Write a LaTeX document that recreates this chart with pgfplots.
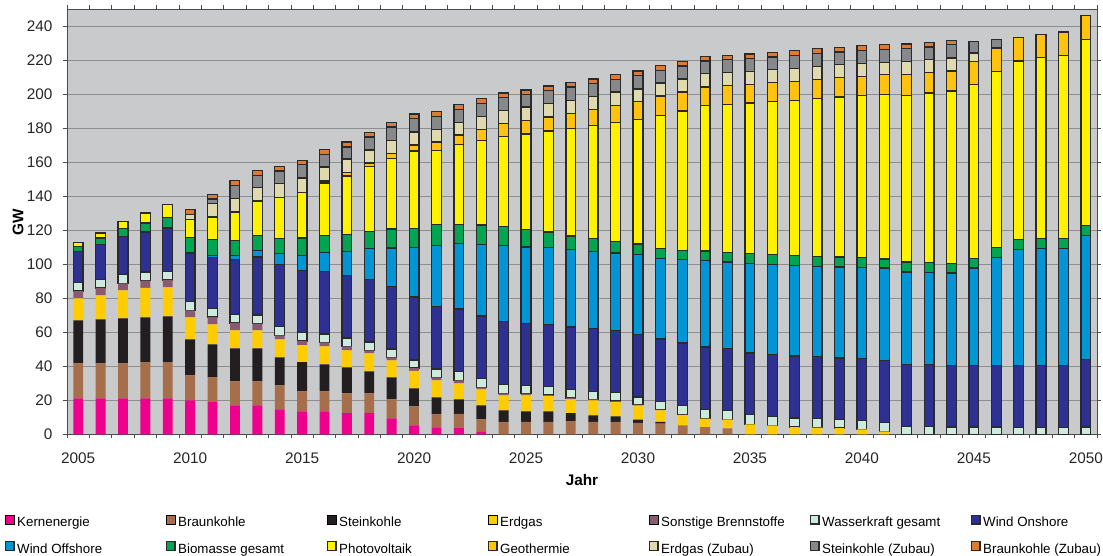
\documentclass[border=0pt]{standalone}
\usepackage{fontspec}
\setmainfont{Liberation Sans}
\usepackage{pgfplots}
\usepackage{pgfplotstable}
\pgfplotsset{compat=1.18}
\definecolor{cK}{HTML}{EC008C}
\definecolor{cB}{HTML}{A66E4A}
\definecolor{cS}{HTML}{231F20}
\definecolor{cE}{HTML}{FFCC00}
\definecolor{cSo}{HTML}{8A5A70}
\definecolor{cW}{HTML}{CDEBDC}
\definecolor{cWon}{HTML}{2E3192}
\definecolor{cWoff}{HTML}{0096D6}
\definecolor{cBio}{HTML}{00A551}
\definecolor{cPV}{HTML}{FFF200}
\definecolor{cGeo}{HTML}{FFC20E}
\definecolor{cEZ}{HTML}{DEDAAE}
\definecolor{cSZ}{HTML}{86888C}
\definecolor{cBZ}{HTML}{DD7A35}
\definecolor{bgc}{HTML}{C9CACC}
\definecolor{gridc}{HTML}{8E8E8E}
\definecolor{bord}{HTML}{2A2A2A}
\pgfplotstableread{
year K B S E So W Won Woff Bio PV Geo EZ SZ BZ
2005 21.2 20.6 25.3 12.9 4.3 5.0 18.4 0 3.0 2.3 0 0 0 0
2006 21.2 20.6 25.8 14.2 4.3 5.1 20.4 0 3.9 3.0 0 0 0 0
2007 21.2 20.6 26.4 16.5 4.1 5.3 22.2 0 4.9 3.9 0 0 0 0
2008 21.2 21.2 26.4 17.3 4.3 5.1 23.5 0 5.3 5.9 0 0 0 0
2009 21.2 21.2 27.0 17.1 4.3 5.1 25.5 0 6.1 7.8 0 0 0 0
2010 20.0 14.7 21.2 12.9 4.1 5.1 28.7 0 9.0 10.6 0 2.8 0 3.0
2011 19.0 14.5 19.4 11.8 4.3 5.1 29.8 1.4 9.2 13.3 0 7.9 2.7 2.8
2012 17.1 14.1 19.4 10.6 4.3 5.1 32.1 2.6 8.8 16.7 0 7.8 7.9 2.7
2013 17.1 14.1 19.4 10.6 3.9 5.1 34.1 3.7 9.1 20.1 0 7.8 7.4 2.8
2014 14.7 14.1 16.5 10.6 2.3 5.3 36.5 6.3 8.8 24.1 0 8.3 7.4 2.7
2015 13.5 11.8 17.1 10.1 2.4 4.9 36.7 8.8 10.2 26.7 0 8.6 7.8 2.6
2016 13.5 11.8 15.9 10.6 2.3 4.9 36.9 11.2 10.0 30.7 1.2 8.3 7.4 2.8
2017 12.4 11.7 15.3 10.0 2.4 4.9 36.8 14.1 10.0 34.4 1.9 8.1 7.0 2.9
2018 12.4 11.7 13.0 10.5 1.8 4.9 36.9 18.2 10.0 38.1 2.1 7.6 7.7 2.6
2019 9.4 11.2 12.9 10.0 1.8 4.9 36.9 22.5 11.2 41.6 2.7 7.8 7.9 2.7
2020 5.3 11.2 10.6 10.2 1.7 4.7 37.1 29.2 11.2 45.5 3.5 7.6 7.9 2.7
2021 4.1 7.7 10.0 10.0 1.7 4.9 36.9 35.9 12.1 43.8 4.9 7.4 7.7 2.6
2022 4.0 8.0 8.6 9.4 1.8 5.3 36.6 38.5 11.3 47.1 5.5 7.4 7.7 2.7
2023 1.4 7.4 8.3 9.4 1.1 5.3 36.7 42.2 11.3 49.8 6.5 7.7 7.6 2.8
2024 0 7.3 6.8 8.8 1.2 5.3 37.1 44.7 11.2 52.9 7.6 7.7 7.4 2.8
2025 0 7.3 6.2 9.4 1.0 4.9 36.5 44.9 10.4 56.1 8.0 7.8 7.5 2.5
2026 0 7.3 6.2 8.9 0.7 5.1 36.5 45.1 9.2 59.4 8.3 7.8 7.9 2.5
2027 0 7.8 4.6 8.2 0.8 5.1 36.6 45.5 8.1 63.1 9.0 7.7 7.8 2.6
2028 0 7.3 3.9 8.8 0.6 4.7 36.9 45.3 7.8 66.3 9.6 7.6 7.5 2.7
2029 0 7.3 3.3 8.4 0.6 4.9 36.7 45.5 6.9 69.7 10.2 7.8 7.3 3.0
2030 0 6.7 1.9 8.3 0.6 4.5 36.8 47.1 6.1 73.3 10.4 7.4 7.9 2.7
2031 0 6.3 1.0 6.8 0.4 4.9 36.7 47.4 5.9 78.2 11.4 7.6 7.5 2.8
2032 0 5.3 0 6.0 0.3 5.3 36.8 49.0 5.5 82.0 11.2 7.6 7.7 2.7
2033 0 4.3 0 4.9 0 5.3 36.9 51.0 5.4 85.7 10.8 7.9 7.4 2.7
2034 0 3.5 0 5.3 0 5.3 36.5 50.8 5.5 87.2 11.2 7.4 7.6 2.7
2035 0 0 0 5.9 0 5.7 36.2 52.6 5.9 88.6 11.0 7.6 7.4 2.8
2036 0 0 0 5.3 0 5.3 36.5 52.7 5.9 90.0 11.2 7.6 7.4 2.8
2037 0 0 0 4.3 0 5.3 36.5 53.3 5.9 91.2 11.2 7.6 7.6 3.0
2038 0 0 0 4.0 0 5.2 36.7 52.9 5.9 92.8 11.3 7.7 7.4 3.0
2039 0 0 0 3.7 0 5.0 36.2 53.5 5.9 94.1 11.4 7.7 7.4 2.7
2040 0 0 0 2.9 0 5.1 36.5 53.5 5.9 95.5 11.2 7.4 7.9 2.7
2041 0 0 0 1.8 0 5.1 36.6 54.3 5.3 96.9 11.6 7.2 7.7 2.7
2042 0 0 0 0 0 4.7 36.3 54.5 5.9 98.0 12.4 7.4 7.7 2.7
2043 0 0 0 0 0 4.7 36.3 54.1 5.9 99.8 11.9 7.7 7.4 2.8
2044 0 0 0 0 0 4.3 36.3 54.3 5.5 101.5 11.8 7.7 7.8 2.6
2045 0 0 0 0 0 4.3 36.3 57.2 5.5 102.6 13.5 4.9 6.9 0
2046 0 0 0 0 0 4.3 36.3 63.3 5.9 103.7 13.8 0 5.1 0
2047 0 0 0 0 0 4.1 36.5 68.0 5.9 105.1 13.7 0 0 0
2048 0 0 0 0 0 4.1 36.5 68.6 5.9 106.5 13.7 0 0 0
2049 0 0 0 0 0 4.1 36.5 68.6 5.9 107.8 13.8 0 0 0
2050 0 0 0 0 0 4.3 39.6 73.0 5.8 109.5 14.3 0 0 0
}\data
\newcommand\lb[1]{\makebox[111.3pt][l]{#1}}
\pgfplotsset{
  mylegend/.style={legend image code/.code={\draw[##1] (0pt,-0.6pt) rectangle (6.5pt,5.9pt);}},
  nb/.style={fill=#1, draw=none, mylegend},
  wb/.style={fill=#1, draw=bord, line width=0.95pt, mylegend},
}
\begin{document}
\begin{tikzpicture}
\useasboundingbox (-50.25pt,-90.75pt) rectangle (777pt,325.75pt);
\begin{axis}[
  scale only axis, width=772.5pt, height=318.75pt,
  ybar stacked, bar width=0.44,
  xmin=2004.5, xmax=2050.5, ymin=0, ymax=250,
  axis background/.style={fill=bgc},
  ymajorgrids, grid style={draw=gridc, line width=0.6pt},
  ytick={0,20,...,240},
  xtick={2005,2010,...,2050},
  minor xtick={2004.5,2005.5,...,2050.5},
  major x tick style={draw=none},
  tick align=outside,
  major tick length=3pt, minor tick length=3pt,
  tick style={draw=gray!60!black, line width=0.6pt},
  axis line style={draw=gray!60!black, line width=0.6pt},
  /pgf/number format/assume math mode=true,
  xticklabel style={/pgf/number format/1000 sep=, anchor=north, inner sep=0pt, yshift=-10.5pt},
  yticklabel style={anchor=east, inner sep=0pt, xshift=-7.7pt},
  tick label style={font=\fontsize{11.5}{13}\selectfont, text=black!85},
  every axis y label/.style={at={(axis description cs:0,0.5)}, xshift=-36.75pt, rotate=90, anchor=center, font=\fontsize{11.5}{13}\selectfont\bfseries},
  every axis x label/.style={at={(axis description cs:0.5,0)}, yshift=-34.5pt, anchor=center, font=\fontsize{11.5}{13}\selectfont\bfseries},
  ylabel={GW}, xlabel={Jahr},
  legend columns=7,
  legend style={at={(0,0)}, anchor=north west, xshift=-47pt, yshift=-60pt,
    draw=none, fill=none, inner sep=0pt, row sep=8.6pt,
    font=\fontsize{10}{12}\selectfont,
    /tikz/every odd column/.style={column sep=2pt},
    /tikz/every even column/.style={column sep=0pt},
    nodes={inner sep=0pt, text height=7.6pt, text depth=2.2pt}},
]
\addplot[nb=cK] table[x=year,y=K]{\data};\addlegendentry{\lb{Kernenergie}}
\addplot[nb=cB] table[x=year,y=B]{\data};\addlegendentry{\lb{Braunkohle}}
\addplot[nb=cS] table[x=year,y=S]{\data};\addlegendentry{\lb{Steinkohle}}
\addplot[nb=cE] table[x=year,y=E]{\data};\addlegendentry{\lb{Erdgas}}
\addplot[nb=cSo] table[x=year,y=So]{\data};\addlegendentry{\lb{Sonstige Brennstoffe}}
\addplot[wb=cW] table[x=year,y=W]{\data};\addlegendentry{\lb{Wasserkraft gesamt}}
\addplot[wb=cWon] table[x=year,y=Won]{\data};\addlegendentry{\lb{Wind Onshore}}
\addplot[wb=cWoff] table[x=year,y=Woff]{\data};\addlegendentry{\lb{Wind Offshore}}
\addplot[wb=cBio] table[x=year,y=Bio]{\data};\addlegendentry{\lb{Biomasse gesamt}}
\addplot[wb=cPV] table[x=year,y=PV]{\data};\addlegendentry{\lb{Photovoltaik}}
\addplot[wb=cGeo] table[x=year,y=Geo]{\data};\addlegendentry{\lb{Geothermie}}
\addplot[wb=cEZ] table[x=year,y=EZ]{\data};\addlegendentry{\lb{Erdgas (Zubau)}}
\addplot[wb=cSZ] table[x=year,y=SZ]{\data};\addlegendentry{\lb{Steinkohle (Zubau)}}
\addplot[wb=cBZ] table[x=year,y=BZ]{\data};\addlegendentry{\lb{Braunkohle (Zubau)}}
\end{axis}
\end{tikzpicture}
\end{document}
